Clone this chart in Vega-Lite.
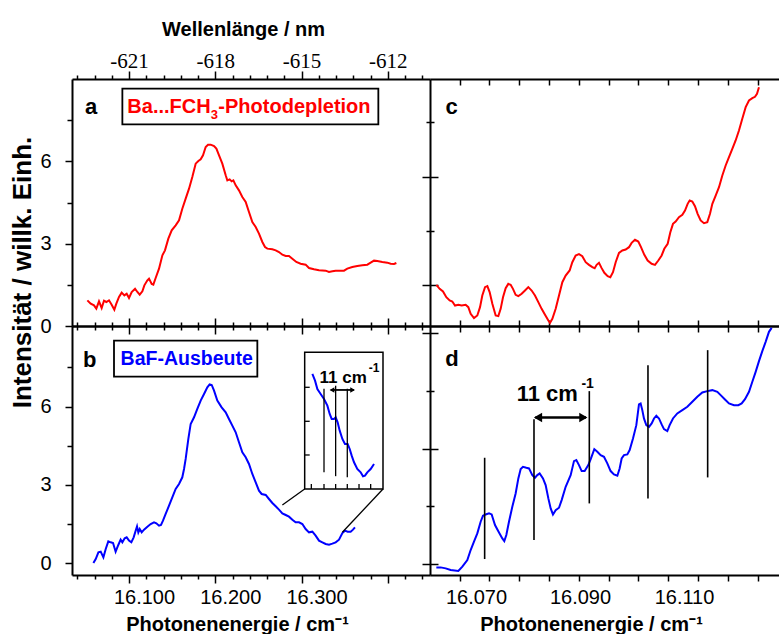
{
  "$schema": "https://vega.github.io/schema/vega-lite/v6.json",
  "padding": {"left": 9, "top": 19, "right": 0, "bottom": 0},
  "background": "white",
  "config": {
    "view": {"stroke": null},
    "font": "Liberation Sans",
    "axis": {
      "grid": false,
      "domainColor": "black",
      "domainWidth": 2,
      "tickColor": "black",
      "tickWidth": 1.5,
      "labelColor": "black",
      "labelFont": "Liberation Sans",
      "labelFontSize": 20,
      "labelFlush": false,
      "labelOverlap": false,
      "titleColor": "black",
      "titleFont": "Liberation Sans",
      "titleFontSize": 20,
      "titleFontWeight": "bold"
    }
  },
  "datasets": {
    "bandA": [
      {"e": 16.0343, "i": 0.935}, {"e": 16.0382, "i": 0.814}, {"e": 16.0420, "i": 0.753}, {"e": 16.0447, "i": 0.632},
      {"e": 16.0478, "i": 0.899}, {"e": 16.0509, "i": 0.656}, {"e": 16.0536, "i": 0.923}, {"e": 16.0563, "i": 0.875},
      {"e": 16.0594, "i": 0.935}, {"e": 16.0625, "i": 0.777}, {"e": 16.0656, "i": 0.595}, {"e": 16.0679, "i": 0.814},
      {"e": 16.0710, "i": 1.057}, {"e": 16.0741, "i": 1.215}, {"e": 16.0772, "i": 1.117}, {"e": 16.0799, "i": 1.178},
      {"e": 16.0826, "i": 1.020}, {"e": 16.0857, "i": 1.239}, {"e": 16.0896, "i": 1.360}, {"e": 16.0923, "i": 1.239},
      {"e": 16.0950, "i": 1.142}, {"e": 16.0981, "i": 1.263}, {"e": 16.1004, "i": 1.482}, {"e": 16.1039, "i": 1.664},
      {"e": 16.1058, "i": 1.725}, {"e": 16.1089, "i": 1.530}, {"e": 16.1108, "i": 1.506}, {"e": 16.1135, "i": 1.749},
      {"e": 16.1174, "i": 2.089}, {"e": 16.1213, "i": 2.575}, {"e": 16.1243, "i": 2.757}, {"e": 16.1282, "i": 3.182},
      {"e": 16.1321, "i": 3.486}, {"e": 16.1367, "i": 3.668}, {"e": 16.1406, "i": 3.850}, {"e": 16.1444, "i": 4.275},
      {"e": 16.1483, "i": 4.640}, {"e": 16.1522, "i": 5.004}, {"e": 16.1560, "i": 5.429}, {"e": 16.1599, "i": 5.915},
      {"e": 16.1630, "i": 6.012}, {"e": 16.1657, "i": 6.073}, {"e": 16.1684, "i": 6.219}, {"e": 16.1715, "i": 6.522},
      {"e": 16.1742, "i": 6.607}, {"e": 16.1773, "i": 6.607}, {"e": 16.1812, "i": 6.559}, {"e": 16.1839, "i": 6.462},
      {"e": 16.1870, "i": 6.219}, {"e": 16.1908, "i": 5.915}, {"e": 16.1947, "i": 5.490}, {"e": 16.1966, "i": 5.308},
      {"e": 16.1993, "i": 5.344}, {"e": 16.2016, "i": 5.271}, {"e": 16.2036, "i": 5.308}, {"e": 16.2063, "i": 5.126},
      {"e": 16.2101, "i": 4.943}, {"e": 16.2140, "i": 4.700}, {"e": 16.2179, "i": 4.518}, {"e": 16.2217, "i": 4.154},
      {"e": 16.2256, "i": 3.790}, {"e": 16.2295, "i": 3.607}, {"e": 16.2333, "i": 3.364}, {"e": 16.2372, "i": 3.061},
      {"e": 16.2403, "i": 2.879}, {"e": 16.2430, "i": 2.818}, {"e": 16.2488, "i": 2.794}, {"e": 16.2527, "i": 2.757},
      {"e": 16.2565, "i": 2.696}, {"e": 16.2604, "i": 2.599}, {"e": 16.2643, "i": 2.551}, {"e": 16.2681, "i": 2.551},
      {"e": 16.2720, "i": 2.453}, {"e": 16.2766, "i": 2.332}, {"e": 16.2816, "i": 2.271}, {"e": 16.2874, "i": 2.235},
      {"e": 16.2913, "i": 2.113}, {"e": 16.2971, "i": 2.065}, {"e": 16.3029, "i": 2.028}, {"e": 16.3106, "i": 2.016},
      {"e": 16.3145, "i": 1.968}, {"e": 16.3184, "i": 1.992}, {"e": 16.3222, "i": 2.016}, {"e": 16.3280, "i": 2.016},
      {"e": 16.3319, "i": 2.016}, {"e": 16.3357, "i": 2.089}, {"e": 16.3415, "i": 2.150}, {"e": 16.3473, "i": 2.186},
      {"e": 16.3531, "i": 2.211}, {"e": 16.3589, "i": 2.235}, {"e": 16.3628, "i": 2.308}, {"e": 16.3667, "i": 2.381},
      {"e": 16.3705, "i": 2.368}, {"e": 16.3763, "i": 2.332}, {"e": 16.3821, "i": 2.308}, {"e": 16.3860, "i": 2.271},
      {"e": 16.3899, "i": 2.259}, {"e": 16.3926, "i": 2.296}
    ],
    "bandB": [
      {"e": 16.0413, "i": 0.000}, {"e": 16.0440, "i": 0.153}, {"e": 16.0471, "i": 0.409}, {"e": 16.0498, "i": 0.435},
      {"e": 16.0529, "i": 0.217}, {"e": 16.0556, "i": 0.537}, {"e": 16.0586, "i": 0.831}, {"e": 16.0614, "i": 0.793},
      {"e": 16.0641, "i": 0.767}, {"e": 16.0671, "i": 0.435}, {"e": 16.0702, "i": 0.691}, {"e": 16.0729, "i": 0.895},
      {"e": 16.0749, "i": 0.793}, {"e": 16.0776, "i": 0.946}, {"e": 16.0799, "i": 0.985}, {"e": 16.0826, "i": 0.857},
      {"e": 16.0853, "i": 0.793}, {"e": 16.0880, "i": 0.985}, {"e": 16.0903, "i": 1.240}, {"e": 16.0919, "i": 1.407},
      {"e": 16.0934, "i": 1.176}, {"e": 16.0950, "i": 1.304}, {"e": 16.0973, "i": 1.176}, {"e": 16.1000, "i": 1.279},
      {"e": 16.1039, "i": 1.394}, {"e": 16.1077, "i": 1.496}, {"e": 16.1116, "i": 1.560}, {"e": 16.1143, "i": 1.522},
      {"e": 16.1174, "i": 1.432}, {"e": 16.1197, "i": 1.458}, {"e": 16.1220, "i": 1.624}, {"e": 16.1251, "i": 1.880},
      {"e": 16.1290, "i": 2.200}, {"e": 16.1328, "i": 2.519}, {"e": 16.1367, "i": 2.839}, {"e": 16.1406, "i": 3.031},
      {"e": 16.1444, "i": 3.287}, {"e": 16.1464, "i": 3.606}, {"e": 16.1483, "i": 3.990}, {"e": 16.1514, "i": 4.757},
      {"e": 16.1541, "i": 5.333}, {"e": 16.1580, "i": 5.588}, {"e": 16.1618, "i": 5.908}, {"e": 16.1657, "i": 6.228},
      {"e": 16.1696, "i": 6.484}, {"e": 16.1734, "i": 6.739}, {"e": 16.1761, "i": 6.854}, {"e": 16.1785, "i": 6.829},
      {"e": 16.1812, "i": 6.611}, {"e": 16.1850, "i": 6.228}, {"e": 16.1900, "i": 5.972}, {"e": 16.1947, "i": 5.780},
      {"e": 16.1985, "i": 5.524}, {"e": 16.2024, "i": 5.269}, {"e": 16.2063, "i": 5.013}, {"e": 16.2101, "i": 4.629},
      {"e": 16.2140, "i": 4.246}, {"e": 16.2179, "i": 4.054}, {"e": 16.2217, "i": 3.798}, {"e": 16.2256, "i": 3.414},
      {"e": 16.2295, "i": 3.095}, {"e": 16.2333, "i": 2.775}, {"e": 16.2364, "i": 2.647}, {"e": 16.2411, "i": 2.609},
      {"e": 16.2449, "i": 2.455}, {"e": 16.2488, "i": 2.302}, {"e": 16.2527, "i": 2.174}, {"e": 16.2565, "i": 2.046},
      {"e": 16.2604, "i": 1.905}, {"e": 16.2643, "i": 1.841}, {"e": 16.2681, "i": 1.778}, {"e": 16.2720, "i": 1.662},
      {"e": 16.2758, "i": 1.560}, {"e": 16.2797, "i": 1.560}, {"e": 16.2836, "i": 1.496}, {"e": 16.2874, "i": 1.304},
      {"e": 16.2913, "i": 1.176}, {"e": 16.2952, "i": 1.202}, {"e": 16.2990, "i": 1.049}, {"e": 16.3029, "i": 0.857},
      {"e": 16.3068, "i": 0.793}, {"e": 16.3106, "i": 0.729}, {"e": 16.3145, "i": 0.703}, {"e": 16.3184, "i": 0.742},
      {"e": 16.3222, "i": 0.793}, {"e": 16.3261, "i": 0.895}, {"e": 16.3300, "i": 1.151}, {"e": 16.3330, "i": 1.240},
      {"e": 16.3361, "i": 1.202}, {"e": 16.3396, "i": 1.202}, {"e": 16.3423, "i": 1.279}, {"e": 16.3446, "i": 1.368}
    ],
    "insetB": [
      {"e": 16.2952, "i": 7.251}, {"e": 16.2983, "i": 6.995}, {"e": 16.3010, "i": 6.675}, {"e": 16.3048, "i": 6.484},
      {"e": 16.3087, "i": 6.292}, {"e": 16.3126, "i": 6.036}, {"e": 16.3153, "i": 5.716}, {"e": 16.3176, "i": 5.524},
      {"e": 16.3203, "i": 5.524}, {"e": 16.3222, "i": 5.588}, {"e": 16.3245, "i": 5.397}, {"e": 16.3269, "i": 5.077},
      {"e": 16.3300, "i": 4.757}, {"e": 16.3330, "i": 4.565}, {"e": 16.3361, "i": 4.565}, {"e": 16.3385, "i": 4.373},
      {"e": 16.3408, "i": 4.118}, {"e": 16.3435, "i": 3.862}, {"e": 16.3473, "i": 3.606}, {"e": 16.3512, "i": 3.478},
      {"e": 16.3539, "i": 3.325}, {"e": 16.3562, "i": 3.350}, {"e": 16.3589, "i": 3.478}, {"e": 16.3628, "i": 3.606},
      {"e": 16.3667, "i": 3.798}
    ],
    "bandC": [
      {"e": 16.06237, "i": 0.000}, {"e": 16.06301, "i": -0.074}, {"e": 16.06365, "i": -0.123}, {"e": 16.06429, "i": -0.228},
      {"e": 16.06493, "i": -0.289}, {"e": 16.06544, "i": -0.308}, {"e": 16.06596, "i": -0.382}, {"e": 16.06660, "i": -0.369},
      {"e": 16.06724, "i": -0.382}, {"e": 16.06801, "i": -0.369}, {"e": 16.06852, "i": -0.412}, {"e": 16.06897, "i": -0.535},
      {"e": 16.06961, "i": -0.615}, {"e": 16.07025, "i": -0.566}, {"e": 16.07077, "i": -0.412}, {"e": 16.07121, "i": -0.197},
      {"e": 16.07173, "i": -0.043}, {"e": 16.07218, "i": -0.025}, {"e": 16.07262, "i": -0.135}, {"e": 16.07314, "i": -0.351},
      {"e": 16.07378, "i": -0.566}, {"e": 16.07429, "i": -0.578}, {"e": 16.07474, "i": -0.443}, {"e": 16.07519, "i": -0.228},
      {"e": 16.07570, "i": -0.062}, {"e": 16.07621, "i": 0.018}, {"e": 16.07666, "i": 0.000}, {"e": 16.07711, "i": -0.074},
      {"e": 16.07762, "i": -0.185}, {"e": 16.07814, "i": -0.209}, {"e": 16.07878, "i": -0.166}, {"e": 16.07942, "i": -0.105},
      {"e": 16.08006, "i": -0.043}, {"e": 16.08070, "i": -0.105}, {"e": 16.08134, "i": -0.197}, {"e": 16.08198, "i": -0.320},
      {"e": 16.08262, "i": -0.443}, {"e": 16.08327, "i": -0.554}, {"e": 16.08391, "i": -0.658}, {"e": 16.08423, "i": -0.702},
      {"e": 16.08468, "i": -0.628}, {"e": 16.08532, "i": -0.443}, {"e": 16.08596, "i": -0.197}, {"e": 16.08660, "i": 0.049},
      {"e": 16.08724, "i": 0.172}, {"e": 16.08801, "i": 0.265}, {"e": 16.08852, "i": 0.418}, {"e": 16.08916, "i": 0.542},
      {"e": 16.08980, "i": 0.566}, {"e": 16.09044, "i": 0.529}, {"e": 16.09109, "i": 0.418}, {"e": 16.09173, "i": 0.369},
      {"e": 16.09237, "i": 0.326}, {"e": 16.09282, "i": 0.308}, {"e": 16.09320, "i": 0.369}, {"e": 16.09365, "i": 0.406},
      {"e": 16.09416, "i": 0.308}, {"e": 16.09468, "i": 0.222}, {"e": 16.09532, "i": 0.160}, {"e": 16.09583, "i": 0.142},
      {"e": 16.09634, "i": 0.234}, {"e": 16.09686, "i": 0.418}, {"e": 16.09750, "i": 0.591}, {"e": 16.09814, "i": 0.634},
      {"e": 16.09878, "i": 0.652}, {"e": 16.09942, "i": 0.695}, {"e": 16.09993, "i": 0.775}, {"e": 16.10057, "i": 0.831},
      {"e": 16.10121, "i": 0.800}, {"e": 16.10173, "i": 0.695}, {"e": 16.10237, "i": 0.554}, {"e": 16.10301, "i": 0.449},
      {"e": 16.10378, "i": 0.388}, {"e": 16.10442, "i": 0.369}, {"e": 16.10506, "i": 0.449}, {"e": 16.10570, "i": 0.542},
      {"e": 16.10621, "i": 0.665}, {"e": 16.10686, "i": 0.757}, {"e": 16.10737, "i": 0.972}, {"e": 16.10788, "i": 1.126},
      {"e": 16.10839, "i": 1.169}, {"e": 16.10903, "i": 1.249}, {"e": 16.10968, "i": 1.292}, {"e": 16.11019, "i": 1.372},
      {"e": 16.11070, "i": 1.495}, {"e": 16.11109, "i": 1.557}, {"e": 16.11160, "i": 1.538}, {"e": 16.11211, "i": 1.452},
      {"e": 16.11262, "i": 1.311}, {"e": 16.11320, "i": 1.188}, {"e": 16.11384, "i": 1.138}, {"e": 16.11448, "i": 1.157},
      {"e": 16.11500, "i": 1.311}, {"e": 16.11545, "i": 1.495}, {"e": 16.11609, "i": 1.649}, {"e": 16.11673, "i": 1.803},
      {"e": 16.11737, "i": 2.018}, {"e": 16.11801, "i": 2.203}, {"e": 16.11865, "i": 2.357}, {"e": 16.11929, "i": 2.511},
      {"e": 16.11993, "i": 2.665}, {"e": 16.12057, "i": 2.849}, {"e": 16.12121, "i": 3.065}, {"e": 16.12186, "i": 3.280},
      {"e": 16.12250, "i": 3.403}, {"e": 16.12314, "i": 3.446}, {"e": 16.12365, "i": 3.471}, {"e": 16.12404, "i": 3.526},
      {"e": 16.12442, "i": 3.649}
    ],
    "bandD": [
      {"e": 16.06237, "i": -0.058}, {"e": 16.06320, "i": -0.058}, {"e": 16.06416, "i": -0.075}, {"e": 16.06512, "i": -0.104},
      {"e": 16.06660, "i": -0.121}, {"e": 16.06737, "i": -0.046}, {"e": 16.06833, "i": 0.069}, {"e": 16.06897, "i": 0.243},
      {"e": 16.06961, "i": 0.387}, {"e": 16.07025, "i": 0.532}, {"e": 16.07089, "i": 0.734}, {"e": 16.07134, "i": 0.838},
      {"e": 16.07186, "i": 0.861}, {"e": 16.07250, "i": 0.879}, {"e": 16.07301, "i": 0.861}, {"e": 16.07365, "i": 0.676},
      {"e": 16.07442, "i": 0.549}, {"e": 16.07506, "i": 0.445}, {"e": 16.07544, "i": 0.399}, {"e": 16.07583, "i": 0.503},
      {"e": 16.07634, "i": 0.734}, {"e": 16.07698, "i": 0.994}, {"e": 16.07762, "i": 1.225}, {"e": 16.07814, "i": 1.486},
      {"e": 16.07859, "i": 1.647}, {"e": 16.07903, "i": 1.688}, {"e": 16.07968, "i": 1.671}, {"e": 16.08019, "i": 1.659},
      {"e": 16.08083, "i": 1.543}, {"e": 16.08134, "i": 1.497}, {"e": 16.08179, "i": 1.543}, {"e": 16.08224, "i": 1.572},
      {"e": 16.08288, "i": 1.486}, {"e": 16.08339, "i": 1.370}, {"e": 16.08391, "i": 1.139}, {"e": 16.08436, "i": 0.965},
      {"e": 16.08480, "i": 0.861}, {"e": 16.08532, "i": 0.936}, {"e": 16.08596, "i": 0.977}, {"e": 16.08647, "i": 1.110},
      {"e": 16.08724, "i": 1.341}, {"e": 16.08820, "i": 1.543}, {"e": 16.08884, "i": 1.786}, {"e": 16.08929, "i": 1.803},
      {"e": 16.08980, "i": 1.717}, {"e": 16.09032, "i": 1.613}, {"e": 16.09089, "i": 1.613}, {"e": 16.09160, "i": 1.717},
      {"e": 16.09211, "i": 1.832}, {"e": 16.09275, "i": 1.994}, {"e": 16.09333, "i": 1.948}, {"e": 16.09397, "i": 1.890},
      {"e": 16.09461, "i": 1.861}, {"e": 16.09525, "i": 1.746}, {"e": 16.09589, "i": 1.613}, {"e": 16.09653, "i": 1.555},
      {"e": 16.09718, "i": 1.532}, {"e": 16.09762, "i": 1.659}, {"e": 16.09801, "i": 1.832}, {"e": 16.09846, "i": 1.890},
      {"e": 16.09910, "i": 1.902}, {"e": 16.09955, "i": 1.977}, {"e": 16.10019, "i": 2.179}, {"e": 16.10083, "i": 2.410},
      {"e": 16.10134, "i": 2.769}, {"e": 16.10166, "i": 2.786}, {"e": 16.10198, "i": 2.671}, {"e": 16.10230, "i": 2.526},
      {"e": 16.10275, "i": 2.410}, {"e": 16.10327, "i": 2.381}, {"e": 16.10378, "i": 2.439}, {"e": 16.10423, "i": 2.526},
      {"e": 16.10468, "i": 2.572}, {"e": 16.10519, "i": 2.526}, {"e": 16.10570, "i": 2.422}, {"e": 16.10615, "i": 2.341},
      {"e": 16.10679, "i": 2.306}, {"e": 16.10724, "i": 2.410}, {"e": 16.10788, "i": 2.526}, {"e": 16.10871, "i": 2.613},
      {"e": 16.10968, "i": 2.671}, {"e": 16.11064, "i": 2.728}, {"e": 16.11160, "i": 2.815}, {"e": 16.11256, "i": 2.902},
      {"e": 16.11352, "i": 2.977}, {"e": 16.11448, "i": 3.000}, {"e": 16.11545, "i": 3.017}, {"e": 16.11641, "i": 2.988},
      {"e": 16.11705, "i": 2.931}, {"e": 16.11788, "i": 2.855}, {"e": 16.11865, "i": 2.786}, {"e": 16.11961, "i": 2.757},
      {"e": 16.12045, "i": 2.757}, {"e": 16.12109, "i": 2.786}, {"e": 16.12173, "i": 2.861}, {"e": 16.12250, "i": 2.988},
      {"e": 16.12314, "i": 3.162}, {"e": 16.12378, "i": 3.335}, {"e": 16.12442, "i": 3.520}, {"e": 16.12506, "i": 3.694},
      {"e": 16.12570, "i": 3.855}, {"e": 16.12634, "i": 4.029}, {"e": 16.12686, "i": 4.098}
    ]
  },
  "columns": 2,
  "spacing": 0,
  "bounds": "flush",
  "align": "each",
  "resolve": {"scale": {"x": "independent", "y": "independent"}},
  "concat": [
    {
      "width": 358,
      "height": 247,
      "resolve": {"axis": {"x": "independent", "y": "independent"}},
      "layer": [
        {
          "data": {"name": "bandA"},
          "mark": {"type": "line", "color": "#ff0000", "strokeWidth": 2},
          "encoding": {
            "x": {
              "field": "e", "type": "quantitative",
              "scale": {"domain": [16.0165, 16.4316], "nice": false, "zero": false},
              "axis": {
                "orient": "top",
                "values": [16.0227, 16.0427, 16.0627, 16.0827, 16.1027, 16.1227, 16.1427, 16.1627, 16.1827, 16.2027, 16.2227, 16.2427, 16.2627, 16.2827, 16.3027, 16.3227, 16.3427, 16.3627, 16.3827, 16.4027, 16.4227],
                "domain": true,
                "tickSize": {"condition": {"test": "abs((datum.value - 16.0827) / 0.1 - round((datum.value - 16.0827) / 0.1)) < 0.05", "value": 8}, "value": 4},
                "labelExpr": "abs((datum.value - 16.0827) / 0.1 - round((datum.value - 16.0827) / 0.1)) < 0.05 ? '-' + (621 - 3 * round((datum.value - 16.0827) / 0.1)) : ''",
                "labelFont": "Liberation Serif",
                "labelFontSize": 21,
                "labelBaseline": "alphabetic",
                "labelPadding": 4,
                "labelAngle": 0,
                "title": "Wellenlänge / nm",
                "titleX": 171,
                "titleY": -44,
                "titleAlign": "center",
                "titleBaseline": "alphabetic"
              }
            },
            "y": {
              "field": "i", "type": "quantitative",
              "scale": {"domain": [0, 9], "nice": false, "zero": false},
              "axis": {
                "orient": "left",
                "values": [0, 1.5, 3, 4.5, 6, 7.5],
                "domain": true,
                "tickSize": {"condition": {"test": "datum.value % 3 === 0", "value": 7}, "value": 5},
                "labelExpr": "datum.value % 3 === 0 ? datum.label : ''",
                "labelPadding": 14,
                "labelBaseline": "middle",
                "title": "Intensität / willk. Einh.",
                "titleFontSize": 26,
                "titleAngle": -90,
                "titleX": -42,
                "titleY": 193,
                "titleAlign": "center",
                "titleBaseline": "alphabetic"
              }
            }
          }
        },
        {
          "data": {"values": [{"x1": 16.0749, "x2": 16.3717, "y1": 7.348, "y2": 8.648}]},
          "mark": {"type": "rect", "fill": "white", "stroke": "black", "strokeWidth": 1.8},
          "encoding": {
            "x": {
              "field": "x1", "type": "quantitative",
              "scale": {"domain": [16.0165, 16.4316], "nice": false, "zero": false},
              "axis": {
                "orient": "bottom",
                "values": [16.0227, 16.0427, 16.0627, 16.0827, 16.1027, 16.1227, 16.1427, 16.1627, 16.1827, 16.2027, 16.2227, 16.2427, 16.2627, 16.2827, 16.3027, 16.3227, 16.3427, 16.3627, 16.3827, 16.4027, 16.4227],
                "domain": true,
                "labels": false,
                "title": null,
                "tickSize": {"condition": {"test": "abs((datum.value - 16.0827) / 0.1 - round((datum.value - 16.0827) / 0.1)) < 0.05", "value": 8}, "value": 4}
              }
            },
            "x2": {"field": "x2"},
            "y": {"field": "y1", "type": "quantitative", "scale": {"domain": [0, 9], "nice": false, "zero": false}, "axis": null},
            "y2": {"field": "y2"}
          }
        },
        {
          "data": {"values": [{"e": 16.0386, "i": 7.713, "t": "a"}]},
          "mark": {"type": "text", "font": "Liberation Sans", "fontWeight": "bold", "fontSize": 22, "align": "center", "baseline": "alphabetic", "color": "black"},
          "encoding": {
            "x": {"field": "e", "type": "quantitative", "scale": {"domain": [16.0165, 16.4316], "nice": false, "zero": false}, "axis": null},
            "y": {"field": "i", "type": "quantitative", "scale": {"domain": [0, 9], "nice": false, "zero": false}, "axis": null},
            "text": {"field": "t"}
          }
        },
        {
          "data": {"values": [{"e": 16.1773, "i": 7.773, "t": "Ba...FCH"}]},
          "mark": {"type": "text", "font": "Liberation Sans", "fontWeight": "bold", "fontSize": 20, "align": "right", "baseline": "alphabetic", "color": "#ff0000"},
          "encoding": {
            "x": {"field": "e", "type": "quantitative", "scale": {"domain": [16.0165, 16.4316], "nice": false, "zero": false}, "axis": null},
            "y": {"field": "i", "type": "quantitative", "scale": {"domain": [0, 9], "nice": false, "zero": false}, "axis": null},
            "text": {"field": "t"}
          }
        },
        {
          "data": {"values": [{"e": 16.1815, "i": 7.531, "t": "3"}]},
          "mark": {"type": "text", "font": "Liberation Sans", "fontWeight": "bold", "fontSize": 13, "align": "center", "baseline": "alphabetic", "color": "#ff0000"},
          "encoding": {
            "x": {"field": "e", "type": "quantitative", "scale": {"domain": [16.0165, 16.4316], "nice": false, "zero": false}, "axis": null},
            "y": {"field": "i", "type": "quantitative", "scale": {"domain": [0, 9], "nice": false, "zero": false}, "axis": null},
            "text": {"field": "t"}
          }
        },
        {
          "data": {"values": [{"e": 16.1862, "i": 7.773, "t": "-Photodepletion"}]},
          "mark": {"type": "text", "font": "Liberation Sans", "fontWeight": "bold", "fontSize": 20, "align": "left", "baseline": "alphabetic", "color": "#ff0000"},
          "encoding": {
            "x": {"field": "e", "type": "quantitative", "scale": {"domain": [16.0165, 16.4316], "nice": false, "zero": false}, "axis": null},
            "y": {"field": "i", "type": "quantitative", "scale": {"domain": [0, 9], "nice": false, "zero": false}, "axis": null},
            "text": {"field": "t"}
          }
        }
      ]
    },
    {
      "width": 349,
      "height": 247,
      "resolve": {"axis": {"x": "independent", "y": "independent"}},
      "layer": [
        {
          "data": {"name": "bandC"},
          "mark": {"type": "line", "color": "#ff0000", "strokeWidth": 2},
          "encoding": {
            "x": {
              "field": "e", "type": "quantitative",
              "scale": {"domain": [16.06115, 16.12827], "nice": false, "zero": false},
              "axis": {
                "orient": "top",
                "values": [16.06686, 16.07259, 16.07832, 16.08405, 16.08978, 16.09551, 16.10124, 16.10697, 16.1127, 16.11843, 16.12416],
                "labels": false, "title": null, "domain": true, "tickSize": -6
              }
            },
            "y": {
              "field": "i", "type": "quantitative",
              "scale": {"domain": [-0.76, 3.8], "nice": false, "zero": false},
              "axis": {
                "orient": "left", "values": [0, 1, 2, 3], "labels": false, "title": null, "domain": true,
                "tickSize": {"condition": {"test": "datum.value % 2 === 0", "value": 8}, "value": 4}
              }
            }
          }
        },
        {
          "data": {"values": [{"e": 16.06532, "i": 3.145, "t": "c"}]},
          "mark": {"type": "text", "font": "Liberation Sans", "fontWeight": "bold", "fontSize": 22, "align": "center", "baseline": "alphabetic", "color": "black"},
          "encoding": {
            "x": {
              "field": "e", "type": "quantitative",
              "scale": {"domain": [16.06115, 16.12827], "nice": false, "zero": false},
              "axis": {
                "orient": "bottom",
                "values": [16.06686, 16.07259, 16.07832, 16.08405, 16.08978, 16.09551, 16.10124, 16.10697, 16.1127, 16.11843, 16.12416],
                "labels": false, "title": null, "domain": true, "tickSize": -6
              }
            },
            "y": {
              "field": "i", "type": "quantitative",
              "scale": {"domain": [-0.76, 3.8], "nice": false, "zero": false},
              "axis": {
                "orient": "left", "values": [0, 1, 2, 3], "labels": false, "title": null, "domain": false,
                "tickSize": {"condition": {"test": "datum.value % 2 === 0", "value": -8}, "value": -4}
              }
            },
            "text": {"field": "t"}
          }
        }
      ]
    },
    {
      "width": 358,
      "height": 249,
      "resolve": {"axis": {"x": "independent", "y": "independent"}},
      "layer": [
        {
          "data": {"name": "bandB"},
          "mark": {"type": "line", "color": "#0000ff", "strokeWidth": 2},
          "encoding": {
            "x": {
              "field": "e", "type": "quantitative",
              "scale": {"domain": [16.0165, 16.4316], "nice": false, "zero": false},
              "axis": {
                "orient": "bottom",
                "values": [16.1, 16.2, 16.3],
                "format": ".3f",
                "ticks": false,
                "tickSize": 0,
                "domain": false,
                "labelPadding": 28,
                "labelBaseline": "alphabetic",
                "labelAngle": 0,
                "title": "Photonenenergie / cm⁻¹",
                "titleX": 165,
                "titleY": 55,
                "titleAlign": "center",
                "titleBaseline": "alphabetic"
              }
            },
            "y": {
              "field": "i", "type": "quantitative",
              "scale": {"domain": [-0.46, 9.09], "nice": false, "zero": false},
              "axis": {
                "orient": "left",
                "values": [0, 1.5, 3, 4.5, 6, 7.5],
                "domain": true,
                "tickSize": {"condition": {"test": "datum.value % 3 === 0", "value": 7}, "value": 5},
                "labelExpr": "datum.value % 3 === 0 ? datum.label : ''",
                "labelPadding": 14,
                "labelBaseline": "middle",
                "title": null
              }
            }
          }
        },
        {
          "data": {"values": [{"x1": 16.0652, "x2": 16.2314, "y1": 7.149, "y2": 8.53}]},
          "mark": {"type": "rect", "fill": "white", "stroke": "black", "strokeWidth": 1.8},
          "encoding": {
            "x": {
              "field": "x1", "type": "quantitative",
              "scale": {"domain": [16.0165, 16.4316], "nice": false, "zero": false},
              "axis": {
                "orient": "bottom",
                "values": [16.0227, 16.0427, 16.0627, 16.0827, 16.1027, 16.1227, 16.1427, 16.1627, 16.1827, 16.2027, 16.2227, 16.2427, 16.2627, 16.2827, 16.3027, 16.3227, 16.3427, 16.3627, 16.3827, 16.4027, 16.4227],
                "domain": true,
                "labels": false,
                "title": null,
                "tickSize": {"condition": {"test": "abs((datum.value - 16.0827) / 0.1 - round((datum.value - 16.0827) / 0.1)) < 0.05", "value": 8}, "value": 4}
              }
            },
            "x2": {"field": "x2"},
            "y": {"field": "y1", "type": "quantitative", "scale": {"domain": [-0.46, 9.09], "nice": false, "zero": false}, "axis": null},
            "y2": {"field": "y2"}
          }
        },
        {
          "data": {"values": [{"e": 16.037, "i": 7.507, "t": "b"}]},
          "mark": {"type": "text", "font": "Liberation Sans", "fontWeight": "bold", "fontSize": 22, "align": "center", "baseline": "alphabetic", "color": "black"},
          "encoding": {
            "x": {
              "field": "e", "type": "quantitative",
              "scale": {"domain": [16.0165, 16.4316], "nice": false, "zero": false},
              "axis": {
                "orient": "top",
                "values": [16.0227, 16.0427, 16.0627, 16.0827, 16.1027, 16.1227, 16.1427, 16.1627, 16.1827, 16.2027, 16.2227, 16.2427, 16.2627, 16.2827, 16.3027, 16.3227, 16.3427, 16.3627, 16.3827, 16.4027, 16.4227],
                "domain": true,
                "labels": false,
                "title": null,
                "tickSize": {"condition": {"test": "abs((datum.value - 16.0827) / 0.1 - round((datum.value - 16.0827) / 0.1)) < 0.05", "value": 8}, "value": 4}
              }
            },
            "y": {"field": "i", "type": "quantitative", "scale": {"domain": [-0.46, 9.09], "nice": false, "zero": false}, "axis": null},
            "text": {"field": "t"}
          }
        },
        {
          "data": {"values": [{"e": 16.1495, "i": 7.596, "t": "BaF-Ausbeute"}]},
          "mark": {"type": "text", "font": "Liberation Sans", "fontWeight": "bold", "fontSize": 19.5, "align": "center", "baseline": "alphabetic", "color": "#0000ff"},
          "encoding": {
            "x": {"field": "e", "type": "quantitative", "scale": {"domain": [16.0165, 16.4316], "nice": false, "zero": false}, "axis": null},
            "y": {"field": "i", "type": "quantitative", "scale": {"domain": [-0.46, 9.09], "nice": false, "zero": false}, "axis": null},
            "text": {"field": "t"}
          }
        },
        {
          "data": {"values": [{"x1": 16.2863, "x2": 16.3771, "y1": 2.839, "y2": 8.082}]},
          "mark": {"type": "rect", "fill": "white", "stroke": "black", "strokeWidth": 1.5},
          "encoding": {
            "x": {"field": "x1", "type": "quantitative", "scale": {"domain": [16.0165, 16.4316], "nice": false, "zero": false}, "axis": null},
            "x2": {"field": "x2"},
            "y": {"field": "y1", "type": "quantitative", "scale": {"domain": [-0.46, 9.09], "nice": false, "zero": false}, "axis": null},
            "y2": {"field": "y2"}
          }
        },
        {
          "data": {"name": "insetB"},
          "mark": {"type": "line", "color": "#0000ff", "strokeWidth": 2},
          "encoding": {
            "x": {"field": "e", "type": "quantitative", "scale": {"domain": [16.0165, 16.4316], "nice": false, "zero": false}, "axis": null},
            "y": {"field": "i", "type": "quantitative", "scale": {"domain": [-0.46, 9.09], "nice": false, "zero": false}, "axis": null}
          }
        },
        {
          "data": {"values": [
            {"x": 16.3087, "x2": 16.3087, "y": 6.68, "y2": 3.48},
            {"x": 16.3222, "x2": 16.3222, "y": 6.8, "y2": 3.33},
            {"x": 16.3357, "x2": 16.3357, "y": 6.68, "y2": 3.29},
            {"x": 16.2863, "x2": 16.2921, "y": 6.739, "y2": 6.739},
            {"x": 16.2863, "x2": 16.2921, "y": 5.435, "y2": 5.435},
            {"x": 16.2863, "x2": 16.2921, "y": 4.143, "y2": 4.143},
            {"x": 16.294, "x2": 16.294, "y": 2.839, "y2": 3.031},
            {"x": 16.3087, "x2": 16.3087, "y": 2.839, "y2": 3.031},
            {"x": 16.3222, "x2": 16.3222, "y": 2.839, "y2": 3.031},
            {"x": 16.3357, "x2": 16.3357, "y": 2.839, "y2": 3.031},
            {"x": 16.3493, "x2": 16.3493, "y": 2.839, "y2": 3.031},
            {"x": 16.3628, "x2": 16.3628, "y": 2.839, "y2": 3.031},
            {"x": 16.2604, "x2": 16.2863, "y": 2.225, "y2": 2.839},
            {"x": 16.33, "x2": 16.3771, "y": 1.177, "y2": 2.839}
          ]},
          "mark": {"type": "rule", "color": "black", "strokeWidth": 1.3},
          "encoding": {
            "x": {"field": "x", "type": "quantitative", "scale": {"domain": [16.0165, 16.4316], "nice": false, "zero": false}, "axis": null},
            "x2": {"field": "x2"},
            "y": {"field": "y", "type": "quantitative", "scale": {"domain": [-0.46, 9.09], "nice": false, "zero": false}, "axis": null},
            "y2": {"field": "y2"}
          }
        },
        {
          "data": {"values": [{"x": 16.3165, "x2": 16.3434, "y": 6.637}]},
          "mark": {"type": "rule", "color": "black", "strokeWidth": 1.8},
          "encoding": {
            "x": {"field": "x", "type": "quantitative", "scale": {"domain": [16.0165, 16.4316], "nice": false, "zero": false}, "axis": null},
            "x2": {"field": "x2"},
            "y": {"field": "y", "type": "quantitative", "scale": {"domain": [-0.46, 9.09], "nice": false, "zero": false}, "axis": null}
          }
        },
        {
          "data": {"values": [{"x": 16.318, "y": 6.637}]},
          "mark": {"type": "point", "shape": "triangle-left", "filled": true, "color": "black", "opacity": 1, "size": 30},
          "encoding": {
            "x": {"field": "x", "type": "quantitative", "scale": {"domain": [16.0165, 16.4316], "nice": false, "zero": false}, "axis": null},
            "y": {"field": "y", "type": "quantitative", "scale": {"domain": [-0.46, 9.09], "nice": false, "zero": false}, "axis": null}
          }
        },
        {
          "data": {"values": [{"x": 16.3419, "y": 6.637}]},
          "mark": {"type": "point", "shape": "triangle-right", "filled": true, "color": "black", "opacity": 1, "size": 30},
          "encoding": {
            "x": {"field": "x", "type": "quantitative", "scale": {"domain": [16.0165, 16.4316], "nice": false, "zero": false}, "axis": null},
            "y": {"field": "y", "type": "quantitative", "scale": {"domain": [-0.46, 9.09], "nice": false, "zero": false}, "axis": null}
          }
        },
        {
          "data": {"values": [{"e": 16.3309, "i": 6.906, "t": "11 cm"}]},
          "mark": {"type": "text", "font": "Liberation Sans", "fontWeight": "bold", "fontSize": 17, "align": "center", "baseline": "alphabetic", "color": "black"},
          "encoding": {
            "x": {"field": "e", "type": "quantitative", "scale": {"domain": [16.0165, 16.4316], "nice": false, "zero": false}, "axis": null},
            "y": {"field": "i", "type": "quantitative", "scale": {"domain": [-0.46, 9.09], "nice": false, "zero": false}, "axis": null},
            "text": {"field": "t"}
          }
        },
        {
          "data": {"values": [{"e": 16.3667, "i": 7.315, "t": "-1"}]},
          "mark": {"type": "text", "font": "Liberation Sans", "fontWeight": "bold", "fontSize": 12, "align": "center", "baseline": "alphabetic", "color": "black"},
          "encoding": {
            "x": {"field": "e", "type": "quantitative", "scale": {"domain": [16.0165, 16.4316], "nice": false, "zero": false}, "axis": null},
            "y": {"field": "i", "type": "quantitative", "scale": {"domain": [-0.46, 9.09], "nice": false, "zero": false}, "axis": null},
            "text": {"field": "t"}
          }
        }
      ]
    },
    {
      "width": 349,
      "height": 249,
      "resolve": {"axis": {"x": "independent", "y": "independent"}},
      "layer": [
        {
          "data": {"name": "bandD"},
          "mark": {"type": "line", "color": "#0000ff", "strokeWidth": 2},
          "encoding": {
            "x": {
              "field": "e", "type": "quantitative",
              "scale": {"domain": [16.06115, 16.12827], "nice": false, "zero": false},
              "axis": {
                "orient": "bottom",
                "values": [16.07, 16.09, 16.11],
                "format": ".3f",
                "ticks": false,
                "tickSize": 0,
                "domain": false,
                "labelPadding": 28,
                "labelBaseline": "alphabetic",
                "labelAngle": 0,
                "title": "Photonenenergie / cm⁻¹",
                "titleX": 161,
                "titleY": 55,
                "titleAlign": "center",
                "titleBaseline": "alphabetic"
              }
            },
            "y": {
              "field": "i", "type": "quantitative",
              "scale": {"domain": [-0.19, 4.13], "nice": false, "zero": false},
              "axis": {
                "orient": "left", "values": [0, 1, 2, 3, 4], "labels": false, "title": null, "domain": true,
                "tickSize": {"condition": {"test": "datum.value % 2 === 0", "value": 8}, "value": 4}
              }
            }
          }
        },
        {
          "data": {"values": [
            {"x": 16.07166, "y": 1.844, "y2": 0.087},
            {"x": 16.08115, "y": 2.514, "y2": 0.416},
            {"x": 16.09179, "y": 3.0, "y2": 1.052},
            {"x": 16.10307, "y": 3.451, "y2": 1.139},
            {"x": 16.11455, "y": 3.711, "y2": 1.503}
          ]},
          "mark": {"type": "rule", "color": "black", "strokeWidth": 1.6},
          "encoding": {
            "x": {
              "field": "x", "type": "quantitative",
              "scale": {"domain": [16.06115, 16.12827], "nice": false, "zero": false},
              "axis": {
                "orient": "bottom",
                "values": [16.06686, 16.07259, 16.07832, 16.08405, 16.08978, 16.09551, 16.10124, 16.10697, 16.1127, 16.11843, 16.12416],
                "labels": false, "title": null, "domain": true, "tickSize": 6
              }
            },
            "y": {
              "field": "y", "type": "quantitative",
              "scale": {"domain": [-0.19, 4.13], "nice": false, "zero": false},
              "axis": {
                "orient": "left", "values": [0, 1, 2, 3, 4], "labels": false, "title": null, "domain": false,
                "tickSize": {"condition": {"test": "datum.value % 2 === 0", "value": -8}, "value": -4}
              }
            },
            "y2": {"field": "y2"}
          }
        },
        {
          "data": {"values": [{"x": 16.0814, "x2": 16.09115, "y": 2.543}]},
          "mark": {"type": "rule", "color": "black", "strokeWidth": 2.6},
          "encoding": {
            "x": {
              "field": "x", "type": "quantitative",
              "scale": {"domain": [16.06115, 16.12827], "nice": false, "zero": false},
              "axis": {
                "orient": "top",
                "values": [16.06686, 16.07259, 16.07832, 16.08405, 16.08978, 16.09551, 16.10124, 16.10697, 16.1127, 16.11843, 16.12416],
                "labels": false, "title": null, "domain": true, "tickSize": -6
              }
            },
            "x2": {"field": "x2"},
            "y": {"field": "y", "type": "quantitative", "scale": {"domain": [-0.19, 4.13], "nice": false, "zero": false}, "axis": null}
          }
        },
        {
          "data": {"values": [{"x": 16.08192, "y": 2.543}]},
          "mark": {"type": "point", "shape": "triangle-left", "filled": true, "color": "black", "opacity": 1, "size": 90},
          "encoding": {
            "x": {"field": "x", "type": "quantitative", "scale": {"domain": [16.06115, 16.12827], "nice": false, "zero": false}, "axis": null},
            "y": {"field": "y", "type": "quantitative", "scale": {"domain": [-0.19, 4.13], "nice": false, "zero": false}, "axis": null}
          }
        },
        {
          "data": {"values": [{"x": 16.09064, "y": 2.543}]},
          "mark": {"type": "point", "shape": "triangle-right", "filled": true, "color": "black", "opacity": 1, "size": 90},
          "encoding": {
            "x": {"field": "x", "type": "quantitative", "scale": {"domain": [16.06115, 16.12827], "nice": false, "zero": false}, "axis": null},
            "y": {"field": "y", "type": "quantitative", "scale": {"domain": [-0.19, 4.13], "nice": false, "zero": false}, "axis": null}
          }
        },
        {
          "data": {"values": [{"e": 16.08371, "i": 2.832, "t": "11 cm"}]},
          "mark": {"type": "text", "font": "Liberation Sans", "fontWeight": "bold", "fontSize": 22, "align": "center", "baseline": "alphabetic", "color": "black"},
          "encoding": {
            "x": {"field": "e", "type": "quantitative", "scale": {"domain": [16.06115, 16.12827], "nice": false, "zero": false}, "axis": null},
            "y": {"field": "i", "type": "quantitative", "scale": {"domain": [-0.19, 4.13], "nice": false, "zero": false}, "axis": null},
            "text": {"field": "t"}
          }
        },
        {
          "data": {"values": [{"e": 16.09147, "i": 3.046, "t": "-1"}]},
          "mark": {"type": "text", "font": "Liberation Sans", "fontWeight": "bold", "fontSize": 14, "align": "center", "baseline": "alphabetic", "color": "black"},
          "encoding": {
            "x": {"field": "e", "type": "quantitative", "scale": {"domain": [16.06115, 16.12827], "nice": false, "zero": false}, "axis": null},
            "y": {"field": "i", "type": "quantitative", "scale": {"domain": [-0.19, 4.13], "nice": false, "zero": false}, "axis": null},
            "text": {"field": "t"}
          }
        },
        {
          "data": {"values": [{"e": 16.06538, "i": 3.434, "t": "d"}]},
          "mark": {"type": "text", "font": "Liberation Sans", "fontWeight": "bold", "fontSize": 22, "align": "center", "baseline": "alphabetic", "color": "black"},
          "encoding": {
            "x": {"field": "e", "type": "quantitative", "scale": {"domain": [16.06115, 16.12827], "nice": false, "zero": false}, "axis": null},
            "y": {"field": "i", "type": "quantitative", "scale": {"domain": [-0.19, 4.13], "nice": false, "zero": false}, "axis": null},
            "text": {"field": "t"}
          }
        }
      ]
    }
  ]
}
